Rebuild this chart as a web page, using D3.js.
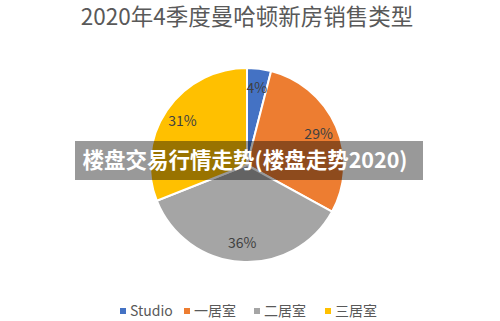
<!DOCTYPE html>
<html>
<head>
<meta charset="utf-8">
<script src="https://cdn.jsdelivr.net/npm/d3@7"></script>
<style>
  body { margin: 0; background: #fff; }
  svg { display: block; font-family: "Noto Sans CJK SC", "Open Sans", sans-serif; }
</style>
</head>
<body>
<div id="viz"></div>
<script>
const categories = ["Studio", "一居室", "二居室", "三居室"];
const shares = [4, 29, 36, 31];
const colors = ["#4472C4", "#ED7D31", "#A5A5A5", "#FFC000"];
const title = "2020年4季度曼哈顿新房销售类型";
const banner = "楼盘交易行情走势(楼盘走势2020)";

const width = 500, height = 321;
const cx = 247, cy = 165, radius = 97;

const svg = d3.select("#viz")
    .append("svg")
    .attr("width", width)
    .attr("height", height);

svg.append("text")
    .attr("x", 247)
    .attr("y", 25)
    .attr("text-anchor", "middle")
    .attr("font-size", 22.5)
    .attr("fill", "#595959")
    .text(title);

const pie = d3.pie().sort(null).value(d => d)(shares);
const arc = d3.arc().innerRadius(0).outerRadius(radius);
const labelArc = d3.arc().innerRadius(78).outerRadius(78);

const g = svg.append("g").attr("transform", `translate(${cx},${cy})`);

g.selectAll("path")
    .data(pie)
    .enter()
    .append("path")
    .attr("d", arc)
    .attr("fill", (d, i) => colors[i])
    .attr("stroke", "#fff")
    .attr("stroke-width", 2);

g.selectAll("text.lbl")
    .data(pie)
    .enter()
    .append("text")
    .attr("class", "lbl")
    .attr("transform", d => `translate(${labelArc.centroid(d)})`)
    .attr("text-anchor", "middle")
    .attr("dy", "0.35em")
    .attr("font-size", 14)
    .attr("fill", "#404040")
    .text(d => d.data + "%");

// legend
const legendPos = [123, 187, 257, 328];
const legend = svg.append("g");
categories.forEach((c, i) => {
    const x = legendPos[i];
    legend.append("rect")
        .attr("x", x - 3).attr("y", 308)
        .attr("width", 6).attr("height", 6)
        .attr("fill", colors[i]);
    legend.append("text")
        .attr("x", x + 7).attr("y", 311)
        .attr("dy", "0.35em")
        .attr("font-size", 14)
        .attr("fill", "#595959")
        .text(c);
});

// overlay banner
svg.append("rect")
    .attr("x", 75).attr("y", 141)
    .attr("width", 348).attr("height", 39)
    .attr("fill", "rgba(0,0,0,0.4)");

svg.append("text")
    .attr("x", 245)
    .attr("y", 160)
    .attr("dy", "0.35em")
    .attr("text-anchor", "middle")
    .attr("font-size", 21.5)
    .attr("font-weight", "bold")
    .attr("fill", "#fff")
    .text(banner);
</script>
</body>
</html>
